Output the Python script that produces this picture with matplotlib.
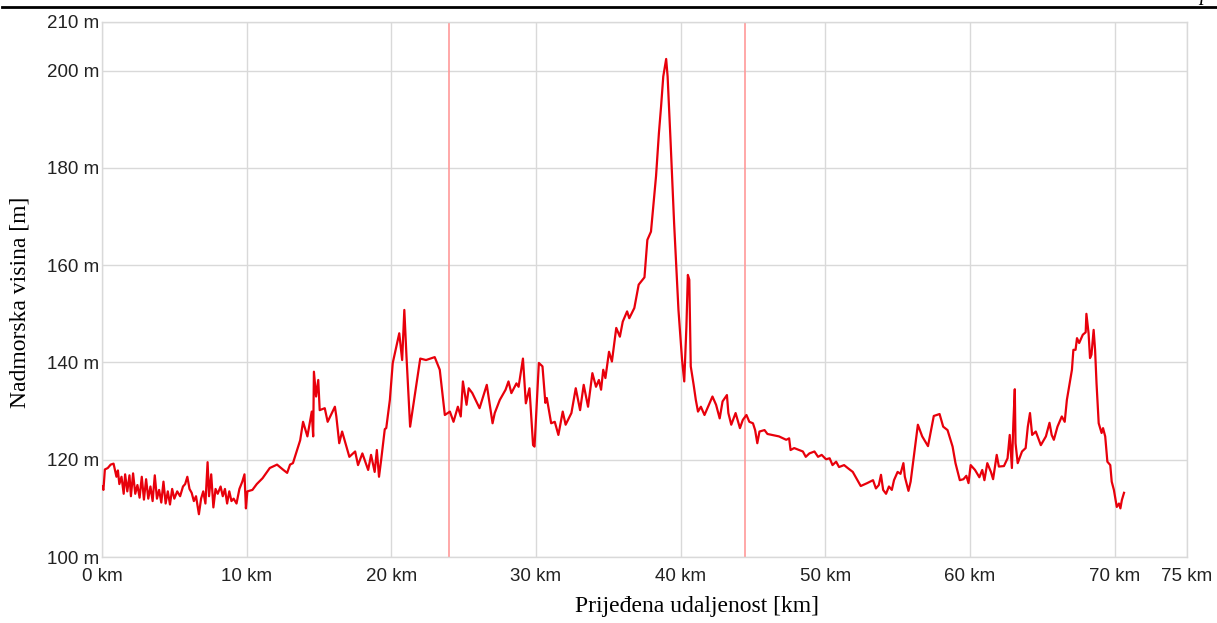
import matplotlib
matplotlib.use('Agg')
import matplotlib.pyplot as plt
from matplotlib.lines import Line2D

# udaljenost [km] i nadmorska visina [m] ocitano s profila
km = [0.0, 0.1, 0.2, 0.4, 0.6, 0.8, 1.0, 1.1, 1.2, 1.35, 1.5, 1.6, 1.75, 1.9, 2.0,
      2.15, 2.3, 2.45, 2.6, 2.75, 2.9, 3.05, 3.2, 3.35, 3.5, 3.65, 3.8, 3.95, 4.1,
      4.25, 4.4, 4.55, 4.7, 4.85, 5.0, 5.2, 5.4, 5.6, 5.75, 5.9, 6.05, 6.2, 6.35,
      6.5, 6.7, 6.85, 7.0, 7.15, 7.3, 7.4, 7.55, 7.7, 7.85, 8.0, 8.2, 8.35, 8.5,
      8.65, 8.8, 8.95, 9.1, 9.3, 9.5, 9.7, 9.85, 9.95, 10.05, 10.4, 10.7, 11.1,
      11.6, 12.1, 12.5, 12.8, 13.0, 13.2, 13.7, 13.9, 14.2, 14.5, 14.6, 14.65,
      14.8, 14.95, 15.05, 15.4, 15.6, 16.1, 16.2, 16.4, 16.6, 17.1, 17.5, 17.7,
      18.0, 18.4, 18.6, 18.85, 19.0, 19.15, 19.3, 19.55, 19.65, 19.9, 20.1, 20.55,
      20.75, 20.9, 21.05, 21.3, 22.0, 22.4, 23.0, 23.35, 23.7, 24.05, 24.3, 24.6,
      24.8, 24.95, 25.2, 25.35, 25.6, 26.1, 26.6, 27.0, 27.15, 27.5, 27.9, 28.1,
      28.3, 28.65, 28.8, 29.1, 29.3, 29.55, 29.8, 29.9, 30.2, 30.45, 30.65, 30.75,
      31.05, 31.3, 31.55, 31.85, 32.05, 32.45, 32.75, 33.05, 33.3, 33.6, 33.9,
      34.15, 34.35, 34.5, 34.65, 34.8, 35.05, 35.25, 35.55, 35.8, 36.0, 36.3,
      36.45, 36.8, 37.1, 37.5, 37.7, 37.95, 38.3, 38.5, 38.65, 38.8, 39.0, 39.1,
      39.3, 39.55, 39.7, 39.85, 40.1, 40.25, 40.4, 40.5, 40.6, 40.7, 40.9, 41.05,
      41.2, 41.4, 41.65, 42.0, 42.2, 42.45, 42.7, 42.9, 43.2, 43.3, 43.5, 43.8,
      44.1, 44.3, 44.55, 44.75, 45.0, 45.15, 45.3, 45.45, 45.8, 46.0, 46.8, 47.3,
      47.5, 47.6, 47.85, 48.45, 48.65, 48.9, 49.25, 49.5, 49.75, 50.05, 50.3, 50.5,
      50.75, 50.95, 51.3, 51.55, 51.9, 52.45, 52.9, 53.3, 53.5, 53.7, 53.85, 54.0,
      54.2, 54.4, 54.6, 54.75, 55.0, 55.2, 55.4, 55.5, 55.75, 55.9, 56.15, 56.4,
      56.7, 57.1, 57.5, 57.9, 58.15, 58.45, 58.8, 59.0, 59.3, 59.55, 59.75, 59.9,
      60.05, 60.35, 60.65, 60.85, 61.0, 61.2, 61.45, 61.6, 61.85, 62.0, 62.35,
      62.6, 62.75, 62.9, 63.0, 63.1, 63.15, 63.3, 63.6, 63.85, 64.0, 64.15, 64.3,
      64.55, 64.9, 65.25, 65.5, 65.65, 65.8, 66.05, 66.35, 66.55, 66.7, 66.85,
      67.05, 67.15, 67.3, 67.4, 67.55, 67.8, 68.0, 68.05, 68.2, 68.3, 68.4, 68.55,
      68.65, 68.75, 68.9, 69.1, 69.2, 69.35, 69.5, 69.7, 69.8, 69.95, 70.15, 70.3,
      70.4, 70.5, 70.65]
visina = [114.5, 113.8, 118.0, 118.3, 119.0, 119.2, 116.5, 117.8, 115.0, 116.5,
          113.0, 117.0, 113.5, 116.8, 112.5, 117.2, 113.0, 114.8, 112.2, 116.5,
          111.8, 116.0, 112.0, 114.5, 111.5, 116.8, 112.0, 113.8, 111.2, 115.5,
          111.0, 113.5, 110.8, 114.0, 112.0, 113.5, 112.5, 114.5, 115.0, 116.5,
          114.0, 113.2, 111.5, 112.5, 108.8, 112.0, 113.5, 111.0, 119.5, 112.5,
          117.0, 110.2, 114.0, 113.0, 114.5, 112.5, 114.0, 111.0, 113.5, 111.5,
          112.0, 111.0, 114.0, 115.5, 117.0, 110.0, 113.5, 113.8, 115.0, 116.2,
          118.3, 119.0, 118.0, 117.3, 119.0, 119.3, 124.0, 127.8, 124.8, 129.9,
          124.8, 138.1, 133.0, 136.4, 130.2, 130.6, 127.8, 130.9, 128.9, 123.4,
          125.8, 120.6, 121.7, 118.9, 121.3, 117.9, 121.0, 117.5, 122.0, 116.5,
          120.0, 126.3, 126.5, 132.3, 139.9, 146.0, 140.5, 150.8, 141.2, 126.8,
          140.8, 140.5, 141.1, 138.5, 129.2, 129.9, 127.8, 130.9, 128.9, 136.1,
          131.3, 134.7, 133.7, 130.6, 135.4, 127.5, 129.6, 132.3, 134.4, 136.1,
          133.7, 135.7, 135.0, 140.8, 131.6, 134.7, 123.0, 122.7, 139.9, 139.2,
          131.7, 132.7, 127.5, 127.8, 125.1, 129.9, 127.2, 129.6, 134.7, 130.2,
          135.4, 130.9, 137.8, 135.0, 136.4, 134.4, 138.5, 136.8, 142.2, 140.2,
          147.1, 145.3, 148.4, 150.5, 149.1, 151.2, 156.0, 157.5, 165.2, 166.9,
          178.3, 187.2, 192.7, 198.8, 202.4, 198.8, 185.8, 168.6, 159.7, 150.8,
          140.5, 136.1, 147.4, 158.0, 157.0, 139.2, 135.4, 132.3, 129.9, 130.9,
          129.2, 131.6, 133.0, 131.3, 128.5, 132.0, 133.3, 129.6, 127.2, 129.6,
          126.5, 128.2, 129.2, 127.8, 127.5, 126.1, 123.4, 125.8, 126.1, 125.3,
          124.8, 124.1, 124.4, 122.0, 122.4, 121.7, 120.6, 121.3, 121.7, 120.6,
          121.0, 120.1, 120.3, 118.9, 119.6, 118.5, 118.9, 118.3, 117.5, 114.6,
          115.2, 115.8, 114.1, 114.8, 116.9, 113.8, 113.0, 114.5, 113.8, 115.8,
          117.5, 117.1, 119.3, 116.5, 113.6, 115.5, 121.3, 127.2, 124.8, 122.8,
          129.0, 129.4, 126.8, 126.1, 122.7, 119.3, 115.8, 116.0, 116.7, 115.2,
          118.9, 117.9, 116.4, 117.9, 115.8, 119.3, 117.5, 116.0, 121.0, 118.6,
          118.7, 120.3, 125.1, 118.3, 127.5, 134.5, 123.4, 119.3, 121.7, 122.4,
          126.8, 129.6, 125.1, 125.8, 123.0, 124.8, 127.6, 125.1, 124.1, 126.8,
          128.9, 127.8, 132.3, 135.0, 138.5, 142.6, 142.6, 145.0, 144.0, 145.7,
          146.2, 150.0, 146.0, 140.9, 141.6, 146.7, 142.6, 135.7, 127.5, 125.5,
          126.5, 124.8, 119.6, 118.9, 115.5, 113.8, 110.3, 111.0, 110.0, 111.7,
          113.2]

oznake_km = [24.0, 44.45]
x_ticks = [0, 10, 20, 30, 40, 50, 60, 70, 75]
y_ticks = [100, 120, 140, 160, 180, 200, 210]

fig = plt.figure(figsize=(12.17, 6.23), dpi=100)
ax = fig.add_axes([0.0838, 0.1059, 0.8915, 0.8588])

for xv in oznake_km:
    ax.axvline(xv, color='#ff9a9a', lw=1.2, zorder=2)

ax.plot(km, visina, color='#e8000b', lw=1.6, zorder=3)

ax.set_xlim(0, 75)
ax.set_ylim(100, 210)
ax.set_xticks(x_ticks)
ax.set_xticklabels([f'{v} km' for v in x_ticks])
ax.set_yticks(y_ticks)
ax.set_yticklabels([f'{v} m' for v in y_ticks])
ax.tick_params(length=0, labelsize=13.5, labelcolor='#222222')
ax.tick_params(axis='x', pad=8)
ax.tick_params(axis='y', pad=2)
for lab in ax.get_xticklabels() + ax.get_yticklabels():
    lab.set_family('Liberation Sans')

ax.grid(True, color='#d9d9d9', lw=1, zorder=1)
for s in ax.spines.values():
    s.set_color('#d9d9d9')
    s.set_linewidth(1)

ax.set_xlabel('Prijeđena udaljenost [km]', family='Liberation Serif', fontsize=17)
ax.set_ylabel('Nadmorska visina [m]', family='Liberation Serif', fontsize=17)
ax.xaxis.set_label_coords(0.548, -0.072)
ax.yaxis.set_label_coords(-0.066, 0.477)

# crta i odrezani tekst na vrhu stranice
fig.add_artist(Line2D([0.002, 1.0], [0.988, 0.988], transform=fig.transFigure, color='black', lw=2))
fig.text(0.985, 1.0, 'p', family='Liberation Serif', style='italic', fontsize=15, va='baseline')

fig.savefig('out.png', dpi=100)
